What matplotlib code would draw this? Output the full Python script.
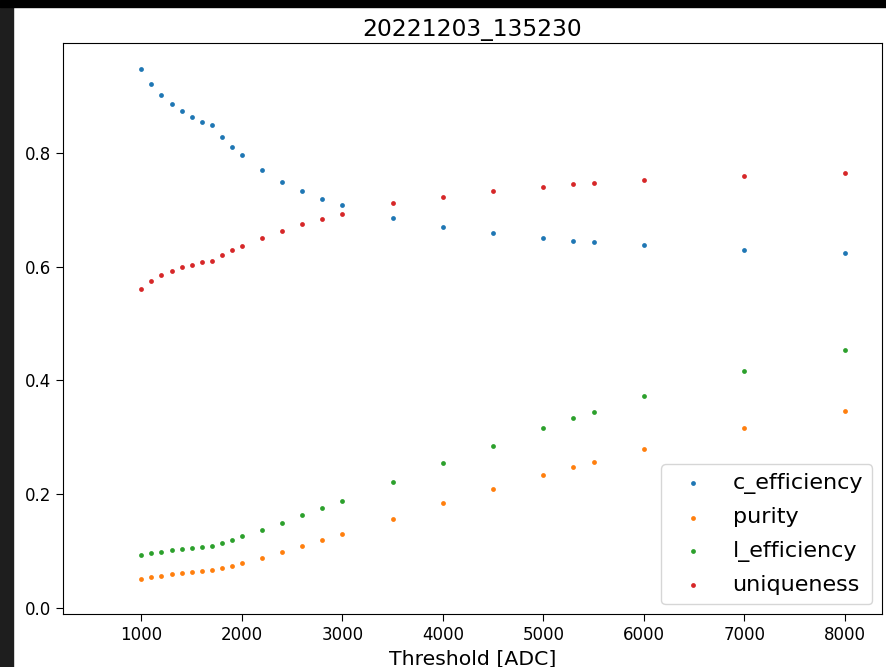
import matplotlib
matplotlib.use("Agg")
import matplotlib.pyplot as plt
from matplotlib.patches import Rectangle

# threshold scan results
thresholds = [1000, 1100, 1200, 1300, 1400, 1500, 1600, 1700, 1800, 1900, 2000,
              2200, 2400, 2600, 2800, 3000, 3500, 4000, 4500, 5000, 5300, 5500,
              6000, 7000, 8000]

c_efficiency = [0.948, 0.922, 0.902, 0.886, 0.874, 0.864, 0.855, 0.849, 0.829,
                0.811, 0.796, 0.770, 0.750, 0.733, 0.719, 0.708, 0.686, 0.670,
                0.659, 0.651, 0.646, 0.644, 0.638, 0.630, 0.624]

purity = [0.051, 0.054, 0.056, 0.059, 0.061, 0.063, 0.064, 0.066, 0.070, 0.074,
          0.079, 0.088, 0.098, 0.109, 0.120, 0.130, 0.156, 0.184, 0.209, 0.233,
          0.248, 0.257, 0.280, 0.316, 0.347]

l_efficiency = [0.093, 0.096, 0.099, 0.102, 0.104, 0.106, 0.107, 0.109, 0.114,
                0.119, 0.126, 0.137, 0.150, 0.163, 0.176, 0.188, 0.221, 0.254,
                0.285, 0.316, 0.334, 0.344, 0.372, 0.417, 0.454]

uniqueness = [0.561, 0.575, 0.585, 0.593, 0.599, 0.603, 0.608, 0.611, 0.620,
              0.629, 0.636, 0.651, 0.663, 0.675, 0.684, 0.693, 0.712, 0.723,
              0.734, 0.741, 0.745, 0.747, 0.753, 0.760, 0.765]

series = [("c_efficiency", c_efficiency, "tab:blue"),
          ("purity", purity, "tab:orange"),
          ("l_efficiency", l_efficiency, "tab:green"),
          ("uniqueness", uniqueness, "tab:red")]

fig = plt.figure(figsize=(8.87, 6.67), dpi=100)
ax = fig.add_axes([63 / 887, 53 / 667, 819 / 887, 571 / 667])

for name, vals, col in series:
    ax.scatter(thresholds, vals, s=12, color=col, label=name, linewidths=0)

ax.set_xlim(220, 8370)
ax.set_ylim(-0.011, 0.994)
ax.set_xticks([1000, 2000, 3000, 4000, 5000, 6000, 7000, 8000])
ax.set_yticks([0.0, 0.2, 0.4, 0.6, 0.8])
ax.tick_params(labelsize=12, length=5)
ax.set_xlabel("Threshold [ADC]", fontsize=14.7, labelpad=4)
ax.set_title("20221203_135230", fontsize=16.8, pad=5)
ax.legend(loc="lower right", fontsize=16, markerscale=1.0, borderaxespad=0.45,
          labelspacing=0.6)

# window frame strips
fig.patches.append(Rectangle((0, 0), 13.5 / 887, 1, transform=fig.transFigure,
                             color="#1e1e1e", zorder=10))
fig.patches.append(Rectangle((0, 1 - 6.7 / 667), 1, 6.7 / 667,
                             transform=fig.transFigure, color="black", zorder=10))

fig.savefig("out.png", dpi=100)
